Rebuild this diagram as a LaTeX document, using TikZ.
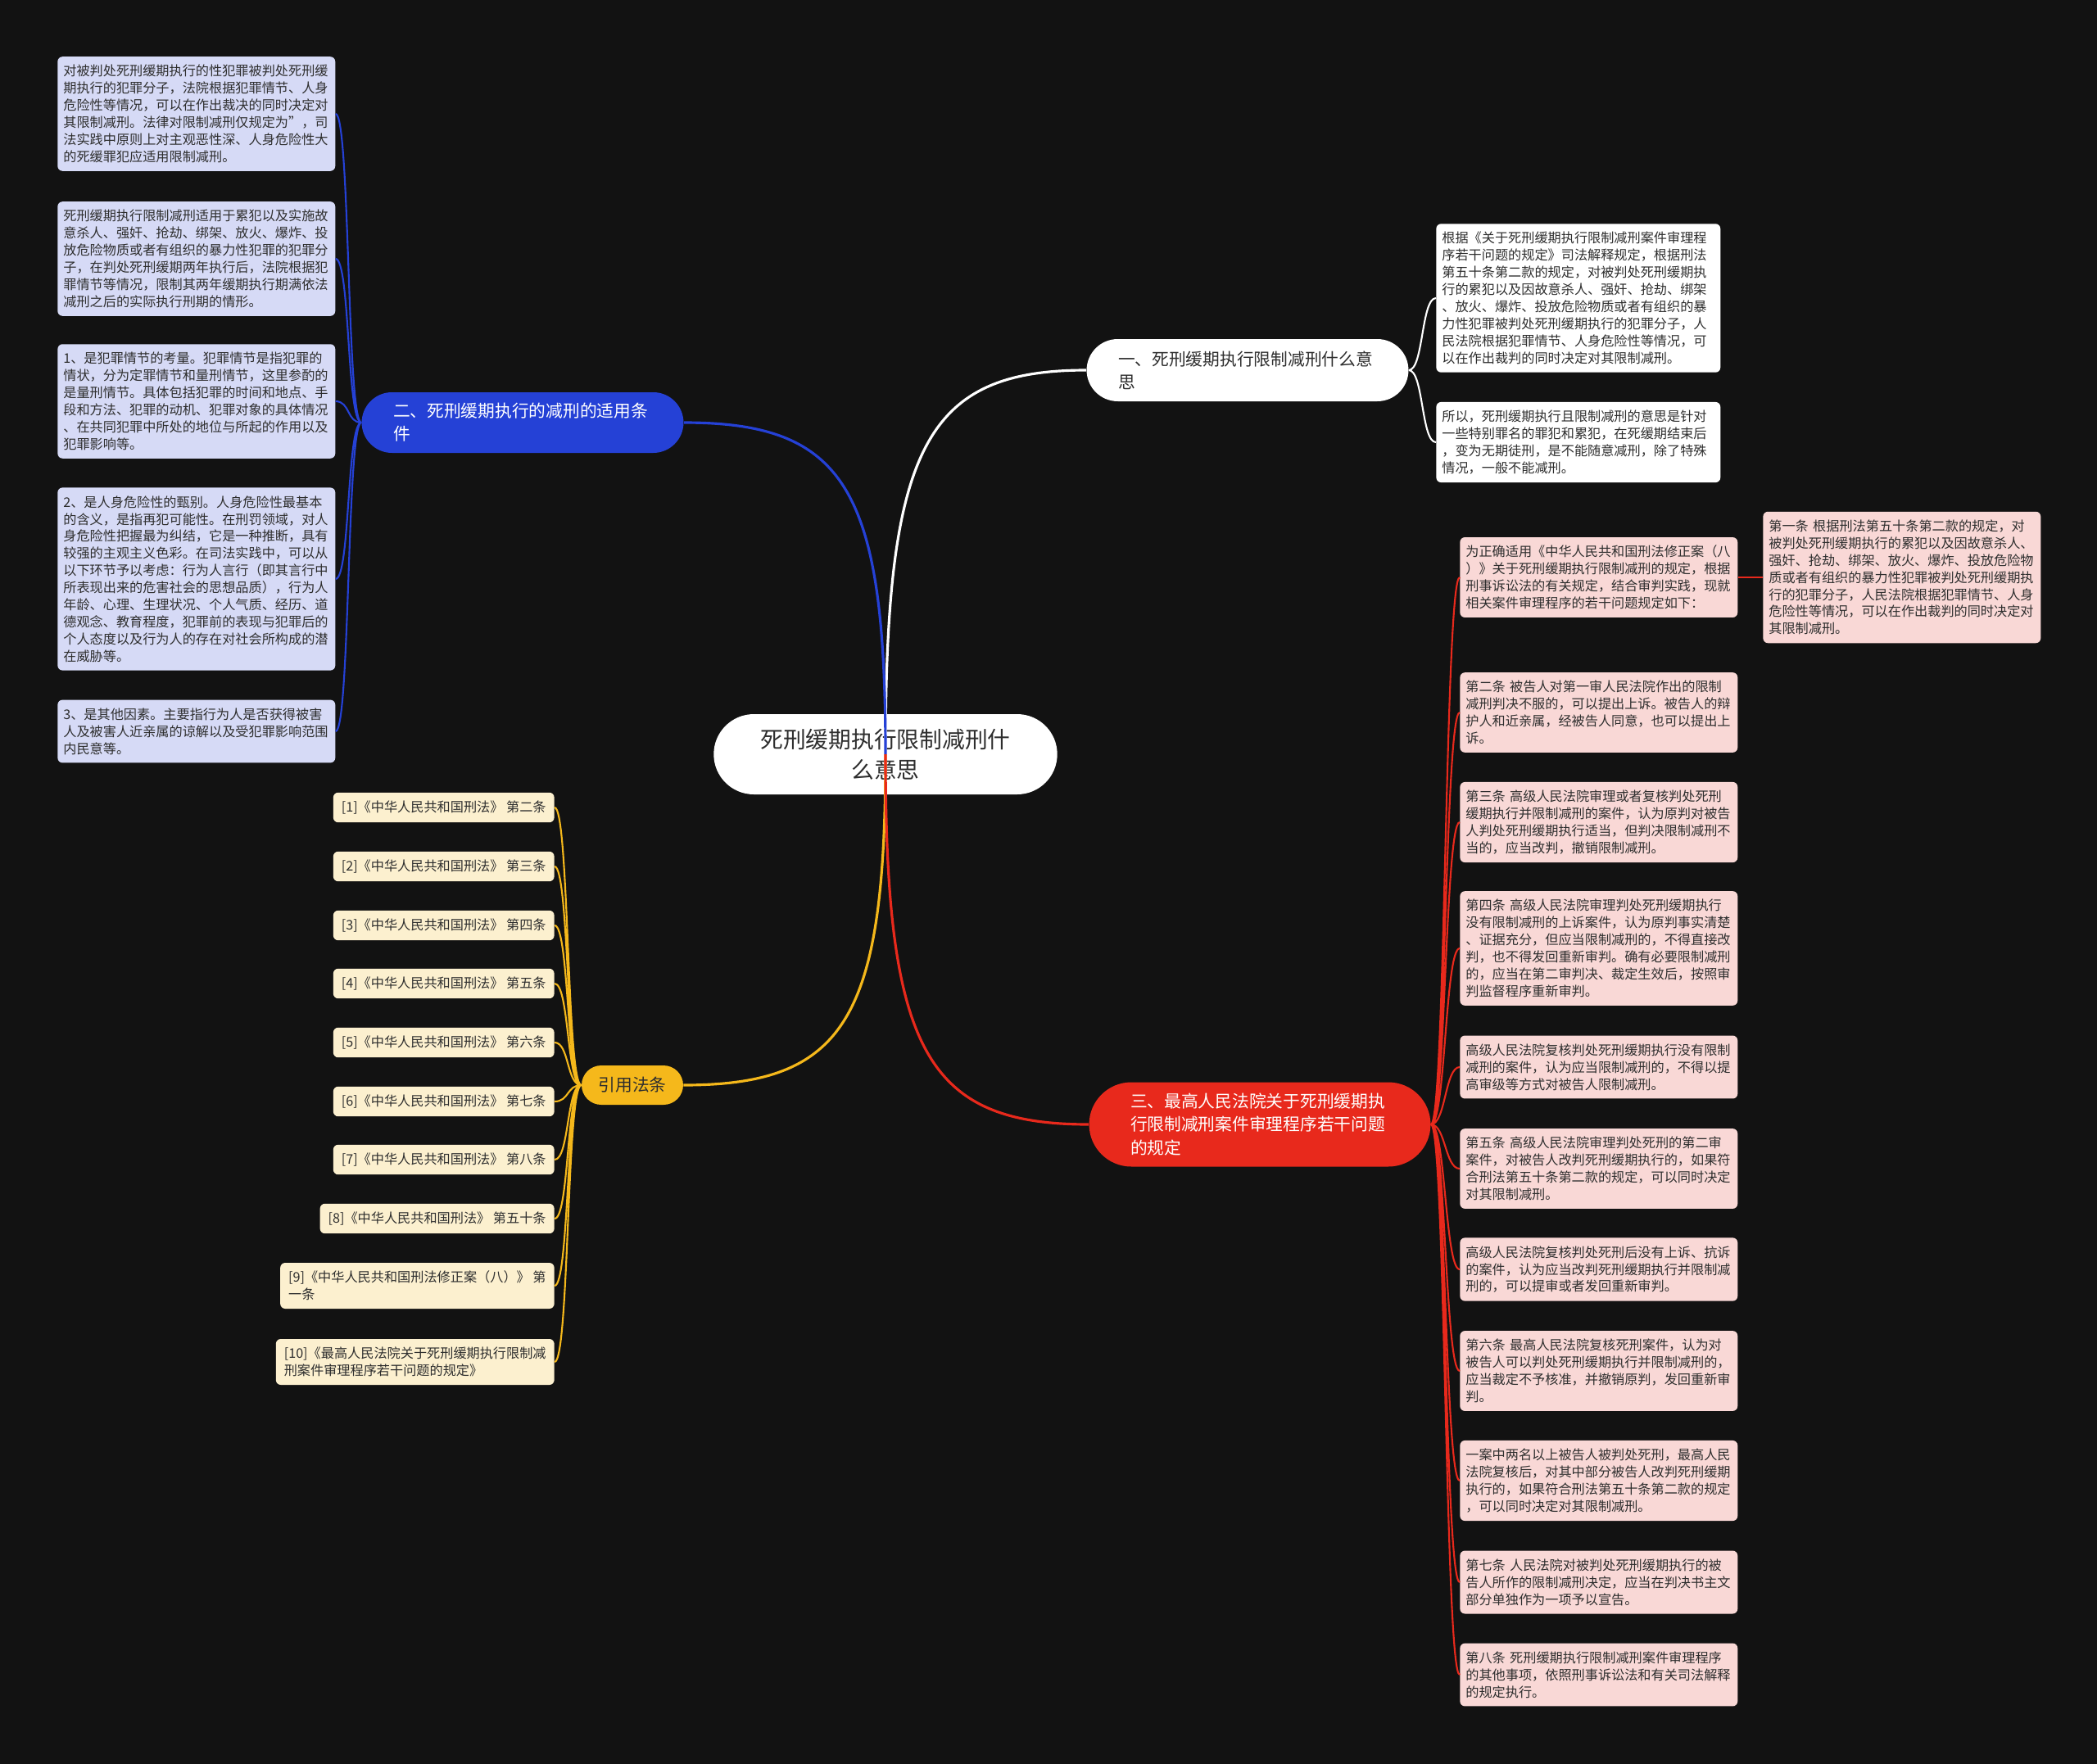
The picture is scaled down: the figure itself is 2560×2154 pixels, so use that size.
\documentclass[tikz,border=0pt]{standalone}
\usepackage{fontspec}
\usepackage{xcolor}
\usepackage{tikz}
\usetikzlibrary{
	calc,
	shapes.misc
}
\newfontfamily\cjk{Noto Sans CJK SC}
\definecolor{BgDark}{HTML}{121212}
\definecolor{TextDark}{HTML}{2E2E2E}
\definecolor{BranchBlue}{HTML}{2541D6}
\definecolor{BranchRed}{HTML}{E8291C}
\definecolor{BranchYellow}{HTML}{F5B81B}
\definecolor{LeafBlue}{HTML}{D6DAF6}
\definecolor{LeafRed}{HTML}{F9D8D6}
\definecolor{LeafYellow}{HTML}{FCF0CF}
\newcommand{\fRoot}{\cjk\fontsize{15.8pt}{21pt}\selectfont}
\newcommand{\fBranch}{\cjk\fontsize{11.8pt}{16pt}\selectfont}
\newcommand{\fLeaf}{\cjk\fontsize{9.2pt}{11.9pt}\selectfont}

\begin{document}
\begin{tikzpicture}[x=0.02cm, y=-0.02cm,
	rootnode/.style={rounded rectangle, fill=white, text=TextDark, font=\fRoot, align=center, minimum width=8.46cm, minimum height=1.96cm, inner sep=1pt},
	branch/.style={rounded rectangle, font=\fBranch, inner xsep=2pt, inner ysep=1pt},
	wide/.style={text width=6.32cm, align=left},
	leaf/.style={rounded corners=0.12cm, text=TextDark, font=\fLeaf, text width=6.5cm, align=left, inner xsep=0.14cm, inner ysep=0.2cm, anchor=west},
	cite/.style={rounded corners=0.12cm, fill=LeafYellow, text=TextDark, font=\fLeaf, align=left, inner xsep=0.2cm, inner ysep=0.2cm, anchor=east},
	toleft/.style={to path={.. controls +(-18,0) and +(18,0) .. (\tikztotarget)}},
	toright/.style={to path={.. controls +(18,0) and +(-18,0) .. (\tikztotarget)}},
	mainline/.style={line width=1.8pt},
	subline/.style={line width=1.2pt}]

	\fill[BgDark] (0,0) rectangle (2560,2154);
	\useasboundingbox (0,0) rectangle (2560,2154);

	% centre and the four branches
	\node[rootnode] (root) at (1081,921) {死刑缓期执行限制减刑什\\么意思};
	\node[branch, wide, fill=white, text=TextDark, minimum width=8cm, minimum height=1.52cm] (mean) at (1523,452) {一、死刑缓期执行限制减刑什么意\\思};
	\node[branch, wide, fill=BranchBlue, text=white, minimum width=8cm, minimum height=1.48cm] (apply) at (638,516) {二、死刑缓期执行的减刑的适用条\\件};
	\node[branch, wide, fill=BranchRed, text=white, minimum width=8.48cm, minimum height=2.06cm] (rules) at (1538,1373) {三、最高人民法院关于死刑缓期执\\行限制减刑案件审理程序若干问题\\的规定};
	\node[branch, fill=BranchYellow, text=TextDark, minimum width=2.62cm, minimum height=0.96cm] (refs) at (772,1325) {引用法条};

	% branch one
	\node[leaf, fill=white, text width=6.66cm] (mean1) at (1753,364) {根据《关于死刑缓期执行限制减刑案件审理程\\序若干问题的规定》司法解释规定，根据刑法\\第五十条第二款的规定，对被判处死刑缓期执\\行的累犯以及因故意杀人、强奸、抢劫、绑架\\、放火、爆炸、投放危险物质或者有组织的暴\\力性犯罪被判处死刑缓期执行的犯罪分子，人\\民法院根据犯罪情节、人身危险性等情况，可\\以在作出裁判的同时决定对其限制减刑。};
	\node[leaf, fill=white, text width=6.66cm] (mean2) at (1753,540) {所以，死刑缓期执行且限制减刑的意思是针对\\一些特别罪名的罪犯和累犯，在死缓期结束后\\，变为无期徒刑，是不能随意减刑，除了特殊\\情况，一般不能减刑。};

	% branch two
	\node[leaf, fill=LeafBlue] (apply1) at (70,139) {对被判处死刑缓期执行的性犯罪被判处死刑缓\\期执行的犯罪分子，法院根据犯罪情节、人身\\危险性等情况，可以在作出裁决的同时决定对\\其限制减刑。法律对限制减刑仅规定为”，司\\法实践中原则上对主观恶性深、人身危险性大\\的死缓罪犯应适用限制减刑。};
	\node[leaf, fill=LeafBlue] (apply2) at (70,316) {死刑缓期执行限制减刑适用于累犯以及实施故\\意杀人、强奸、抢劫、绑架、放火、爆炸、投\\放危险物质或者有组织的暴力性犯罪的犯罪分\\子，在判处死刑缓期两年执行后，法院根据犯\\罪情节等情况，限制其两年缓期执行期满依法\\减刑之后的实际执行刑期的情形。};
	\node[leaf, fill=LeafBlue] (apply3) at (70,490) {1、是犯罪情节的考量。犯罪情节是指犯罪的\\情状，分为定罪情节和量刑情节，这里参酌的\\是量刑情节。具体包括犯罪的时间和地点、手\\段和方法、犯罪的动机、犯罪对象的具体情况\\、在共同犯罪中所处的地位与所起的作用以及\\犯罪影响等。};
	\node[leaf, fill=LeafBlue] (apply4) at (70,707) {2、是人身危险性的甄别。人身危险性最基本\\的含义，是指再犯可能性。在刑罚领域，对人\\身危险性把握最为纠结，它是一种推断，具有\\较强的主观主义色彩。在司法实践中，可以从\\以下环节予以考虑：行为人言行（即其言行中\\所表现出来的危害社会的思想品质），行为人\\年龄、心理、生理状况、个人气质、经历、道\\德观念、教育程度，犯罪前的表现与犯罪后的\\个人态度以及行为人的存在对社会所构成的潜\\在威胁等。};
	\node[leaf, fill=LeafBlue] (apply5) at (70,893) {3、是其他因素。主要指行为人是否获得被害\\人及被害人近亲属的谅解以及受犯罪影响范围\\内民意等。};

	% branch three
	\node[leaf, fill=LeafRed] (rule0) at (1782,705) {为正确适用《中华人民共和国刑法修正案（八\\）》关于死刑缓期执行限制减刑的规定，根据\\刑事诉讼法的有关规定，结合审判实践，现就\\相关案件审理程序的若干问题规定如下：};
	\node[leaf, fill=LeafRed] (rule1) at (2152,705) {第一条 根据刑法第五十条第二款的规定，对\\被判处死刑缓期执行的累犯以及因故意杀人、\\强奸、抢劫、绑架、放火、爆炸、投放危险物\\质或者有组织的暴力性犯罪被判处死刑缓期执\\行的犯罪分子，人民法院根据犯罪情节、人身\\危险性等情况，可以在作出裁判的同时决定对\\其限制减刑。};
	\node[leaf, fill=LeafRed] (rule2) at (1782,870) {第二条 被告人对第一审人民法院作出的限制\\减刑判决不服的，可以提出上诉。被告人的辩\\护人和近亲属，经被告人同意，也可以提出上\\诉。};
	\node[leaf, fill=LeafRed] (rule3) at (1782,1004) {第三条 高级人民法院审理或者复核判处死刑\\缓期执行并限制减刑的案件，认为原判对被告\\人判处死刑缓期执行适当，但判决限制减刑不\\当的，应当改判，撤销限制减刑。};
	\node[leaf, fill=LeafRed] (rule4) at (1782,1158) {第四条 高级人民法院审理判处死刑缓期执行\\没有限制减刑的上诉案件，认为原判事实清楚\\、证据充分，但应当限制减刑的，不得直接改\\判，也不得发回重新审判。确有必要限制减刑\\的，应当在第二审判决、裁定生效后，按照审\\判监督程序重新审判。};
	\node[leaf, fill=LeafRed] (rule4x) at (1782,1303) {高级人民法院复核判处死刑缓期执行没有限制\\减刑的案件，认为应当限制减刑的，不得以提\\高审级等方式对被告人限制减刑。};
	\node[leaf, fill=LeafRed] (rule5) at (1782,1427) {第五条 高级人民法院审理判处死刑的第二审\\案件，对被告人改判死刑缓期执行的，如果符\\合刑法第五十条第二款的规定，可以同时决定\\对其限制减刑。};
	\node[leaf, fill=LeafRed] (rule5x) at (1782,1550) {高级人民法院复核判处死刑后没有上诉、抗诉\\的案件，认为应当改判死刑缓期执行并限制减\\刑的，可以提审或者发回重新审判。};
	\node[leaf, fill=LeafRed] (rule6) at (1782,1674) {第六条 最高人民法院复核死刑案件，认为对\\被告人可以判处死刑缓期执行并限制减刑的，\\应当裁定不予核准，并撤销原判，发回重新审\\判。};
	\node[leaf, fill=LeafRed] (rule6x) at (1782,1808) {一案中两名以上被告人被判处死刑，最高人民\\法院复核后，对其中部分被告人改判死刑缓期\\执行的，如果符合刑法第五十条第二款的规定\\，可以同时决定对其限制减刑。};
	\node[leaf, fill=LeafRed] (rule7) at (1782,1932) {第七条 人民法院对被判处死刑缓期执行的被\\告人所作的限制减刑决定，应当在判决书主文\\部分单独作为一项予以宣告。};
	\node[leaf, fill=LeafRed] (rule8) at (1782,2045) {第八条 死刑缓期执行限制减刑案件审理程序\\的其他事项，依照刑事诉讼法和有关司法解释\\的规定执行。};

	% branch four
	\node[cite] (ref1) at (677,986) {[1]《中华人民共和国刑法》 第二条};
	\node[cite] (ref2) at (677,1058) {[2]《中华人民共和国刑法》 第三条};
	\node[cite] (ref3) at (677,1130) {[3]《中华人民共和国刑法》 第四条};
	\node[cite] (ref4) at (677,1201) {[4]《中华人民共和国刑法》 第五条};
	\node[cite] (ref5) at (677,1273) {[5]《中华人民共和国刑法》 第六条};
	\node[cite] (ref6) at (677,1345) {[6]《中华人民共和国刑法》 第七条};
	\node[cite] (ref7) at (677,1416) {[7]《中华人民共和国刑法》 第八条};
	\node[cite] (ref8) at (677,1488) {[8]《中华人民共和国刑法》 第五十条};
	\node[cite] (ref9) at (677,1570) {[9]《中华人民共和国刑法修正案（八）》 第\\一条};
	\node[cite] (ref10) at (677,1663) {[10]《最高人民法院关于死刑缓期执行限制减\\刑案件审理程序若干问题的规定》};

	% centre to branches, drawn over the centre node
	\draw[mainline, white] (root.center) .. controls ($(root.center)!0.8!(root.center |- mean.west)$) and ($(mean.west)!0.8!(root.center |- mean.west)$) .. (mean.west);
	\draw[mainline, BranchBlue] (root.center) .. controls ($(root.center)!0.8!(root.center |- apply.east)$) and ($(apply.east)!0.8!(root.center |- apply.east)$) .. (apply.east);
	\draw[mainline, BranchYellow] (root.center) .. controls ($(root.center)!0.8!(root.center |- refs.east)$) and ($(refs.east)!0.8!(root.center |- refs.east)$) .. (refs.east);
	\draw[mainline, BranchRed] (root.center) .. controls ($(root.center)!0.8!(root.center |- rules.west)$) and ($(rules.west)!0.8!(root.center |- rules.west)$) .. (rules.west);

	% branches to leaves
	\draw[subline, white] (mean.east) to[toright] (mean1.west) (mean.east) to[toright] (mean2.west);
	\draw[subline, BranchBlue] (apply.west) to[toleft] (apply1.east) (apply.west) to[toleft] (apply2.east)
		(apply.west) to[toleft] (apply3.east) (apply.west) to[toleft] (apply4.east) (apply.west) to[toleft] (apply5.east);
	\draw[subline, BranchRed] (rules.east) to[toright] (rule0.west) (rules.east) to[toright] (rule2.west)
		(rules.east) to[toright] (rule3.west) (rules.east) to[toright] (rule4.west)
		(rules.east) to[toright] (rule4x.west) (rules.east) to[toright] (rule5.west)
		(rules.east) to[toright] (rule5x.west) (rules.east) to[toright] (rule6.west)
		(rules.east) to[toright] (rule6x.west) (rules.east) to[toright] (rule7.west)
		(rules.east) to[toright] (rule8.west);
	\draw[subline, BranchRed] (rule0.east) -- (rule1.west);
	\draw[subline, BranchYellow] (refs.west) to[toleft] (ref1.east) (refs.west) to[toleft] (ref2.east)
		(refs.west) to[toleft] (ref3.east) (refs.west) to[toleft] (ref4.east)
		(refs.west) to[toleft] (ref5.east) (refs.west) to[toleft] (ref6.east)
		(refs.west) to[toleft] (ref7.east) (refs.west) to[toleft] (ref8.east)
		(refs.west) to[toleft] (ref9.east) (refs.west) to[toleft] (ref10.east);
\end{tikzpicture}
\end{document}
